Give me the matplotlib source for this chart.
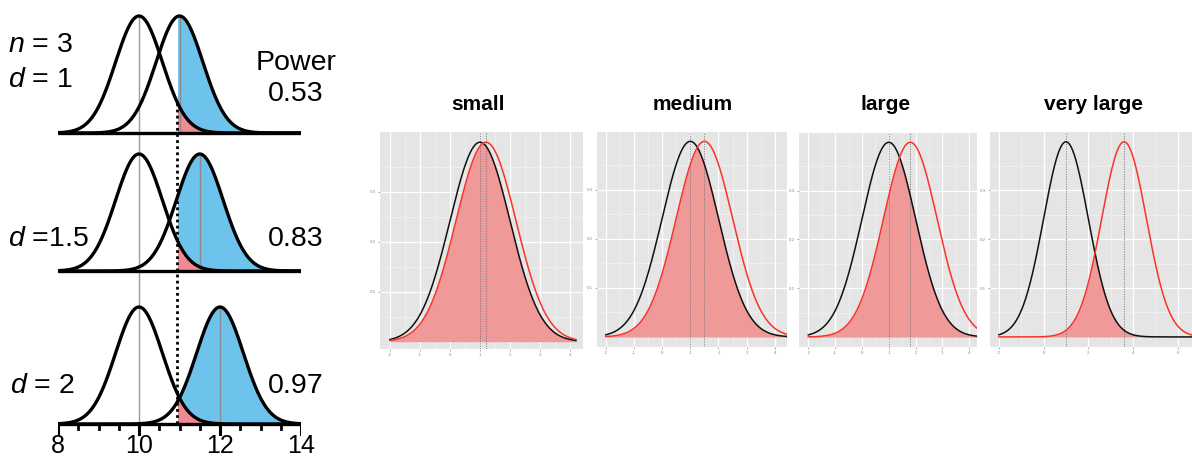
import numpy as np
import matplotlib
matplotlib.use("Agg")
import matplotlib.pyplot as plt

plt.rcParams['font.family'] = ['Liberation Sans', 'DejaVu Sans']
plt.rcParams['mathtext.fontset'] = 'custom'
plt.rcParams['mathtext.rm'] = 'Liberation Sans'
plt.rcParams['mathtext.it'] = 'Liberation Sans:italic'

# ---------------- data ----------------
null_mean = 10.0
n_obs = 3
alt_means = [11.0, 11.5, 12.0]
row_labels = ['$n$ = 3\n$d$ = 1', '$d$ =1.5', '$d$ = 2']
power_values = ['0.53', '0.83', '0.97']
left_ticks = [8, 10, 12, 14]

panel_titles = ['small', 'medium', 'large', 'very large']
ref_means = [1.0, 1.0, 1.0, 1.0]
shift_means = [1.2, 1.5, 1.8, 3.6]
x_breaks = [[-2, -1, 0, 1, 2, 3, 4], [-2, -1, 0, 1, 2, 3, 4],
            [-2, -1, 0, 1, 2, 3, 4], [-2, 0, 2, 4, 6]]
y_breaks = [0.1, 0.2, 0.3]

W, H = 1192, 459
fig = plt.figure(figsize=(W / 100, H / 100), dpi=100)


def npdf(x, m, s):
    return np.exp(-0.5 * ((x - m) / s) ** 2) / (s * np.sqrt(2 * np.pi))


# ---------------- left panel ----------------
sd = 1 / np.sqrt(n_obs)
crit = null_mean + 1.645 * sd
blue = '#6EC3EC'
pink = '#EF8A94'

axL = fig.add_axes([58 / W, 0, (301 - 58) / W, 1])
axL.set_xlim(8, 14)
axL.set_ylim(H, 0)
axL.axis('off')

baselines = [133, 271, 424]
scale = 117 / npdf(0, 0, sd)
x = np.linspace(8, 14, 800)
for i, am in enumerate(alt_means):
    b = baselines[i]
    yn = b - npdf(x, null_mean, sd) * scale
    ya = b - npdf(x, am, sd) * scale
    m = x >= crit
    axL.fill_between(x[m], ya[m], b, color=blue, lw=0, zorder=1)
    axL.fill_between(x[m], yn[m], b, color=pink, lw=0, zorder=2)
    axL.plot([am, am], [b - 117, b], color='#8a8a8a', lw=1.0, zorder=3)
    axL.plot(x, yn, color='black', lw=2.4, zorder=5, solid_capstyle='butt')
    axL.plot(x, ya, color='black', lw=2.4, zorder=5, solid_capstyle='butt')
    axL.plot([8, 14], [b, b], color='black', lw=2.4, zorder=6, solid_capstyle='butt')

axL.plot([null_mean, null_mean], [baselines[0] - 117, baselines[2]],
         color='#9a9a9a', lw=1.0, zorder=3)
ytop = baselines[0] - npdf(crit, null_mean, sd) * scale
axL.plot([crit, crit], [ytop, baselines[2]], color='black', lw=2.0,
         ls=(0, (1, 1.2)), zorder=7)
# bottom axis ticks
for t in np.arange(8, 14.01, 0.5):
    if t in left_ticks:
        axL.plot([t, t], [baselines[2], baselines[2] + 10], color='black', lw=2.2, zorder=6)
    else:
        axL.plot([t, t], [baselines[2], baselines[2] + 4.5], color='black', lw=2.0, zorder=6)

# overlay for texts in pixel coordinates
axT = fig.add_axes([0, 0, 1, 1], zorder=10)
axT.set_xlim(0, W)
axT.set_ylim(H, 0)
axT.axis('off')
axT.patch.set_alpha(0)

fs = 20.5
axT.text(8, 45, '$n$ = 3', fontsize=fs, ha='left', va='center')
axT.text(8, 80, '$d$ = 1', fontsize=fs, ha='left', va='center')
axT.text(8, 239, row_labels[1], fontsize=fs, ha='left', va='center')
axT.text(10, 386, row_labels[2], fontsize=fs, ha='left', va='center')
axT.text(296, 63, 'Power', fontsize=fs, ha='center', va='center')
for yy, pv in zip([94, 239, 386], power_values):
    axT.text(296, yy, pv, fontsize=fs, ha='center', va='center')
for t in left_ticks:
    px = 58 + (t - 8) * (301 - 58) / 6
    axT.text(px, 458, str(t), fontsize=18, ha='center', va='bottom')

# ---------------- right panels ----------------
panels = [(380, 583, 132, 349), (597, 787, 132, 347),
          (799, 977, 133, 347), (990, 1192, 132, 347)]
xlims = [(-2.333, 4.433), (-2.31, 4.43), (-2.347, 4.287), (-2.40, 6.64)]
ylims = [(-0.0146, 0.4194), (-0.0204, 0.418), (-0.0204, 0.418), (-0.0206, 0.419)]
title_x = [478, 693, 886, 1094]
fill_col = '#EF9999'

for k in range(4):
    x0, x1, y0, y1 = panels[k]
    ax = fig.add_axes([x0 / W, 1 - y1 / H, (x1 - x0) / W, (y1 - y0) / H])
    ax.set_facecolor('#E5E5E5')
    for s in ax.spines.values():
        s.set_visible(False)
    ax.set_xlim(*xlims[k])
    ax.set_ylim(*ylims[k])
    xb = x_breaks[k]
    step = xb[1] - xb[0]
    minors_x = [v + step / 2 for v in xb[:-1]] + [xb[0] - step / 2, xb[-1] + step / 2]
    for v in minors_x:
        ax.axvline(v, color='#F2F2F2', lw=0.5, zorder=0)
    for v in xb:
        ax.axvline(v, color='white', lw=0.9, zorder=0)
    for v in [0.05, 0.15, 0.25, 0.35]:
        ax.axhline(v, color='#F2F2F2', lw=0.5, zorder=0)
    for v in y_breaks:
        ax.axhline(v, color='white', lw=0.9, zorder=0)
    xe = 4.2 if k == 0 else xlims[k][1] + 0.2
    xx = np.linspace(-2, xe, 600)
    yb = npdf(xx, ref_means[k], 1.0)
    yr = npdf(xx, shift_means[k], 1.0)
    ax.fill_between(xx, np.minimum(yb, yr), 0, color=fill_col, lw=0, zorder=1)
    ax.axvline(ref_means[k], color='#777777', lw=0.6, ls=(0, (1.5, 1.5)), zorder=2)
    ax.axvline(shift_means[k], color='#777777', lw=0.6, ls=(0, (1.5, 1.5)), zorder=2)
    ax.plot(xx, yb, color='#111111', lw=1.1, zorder=3)
    ax.plot(xx, yr, color='#F8332A', lw=1.1, zorder=3)
    ax.set_xticks(xb)
    ax.set_xticklabels([str(v) for v in xb])
    ax.set_yticks(y_breaks)
    ax.set_yticklabels(['%.1f' % v for v in y_breaks])
    ax.tick_params(length=1.5, width=0.5, color='#8a8a8a', labelsize=3.2,
                   labelcolor='#8a8a8a', pad=1.5)
    axT.text(title_x[k], 105, panel_titles[k], fontsize=15, fontweight='bold',
             ha='center', va='center')

fig.savefig('out.png', dpi=100)
